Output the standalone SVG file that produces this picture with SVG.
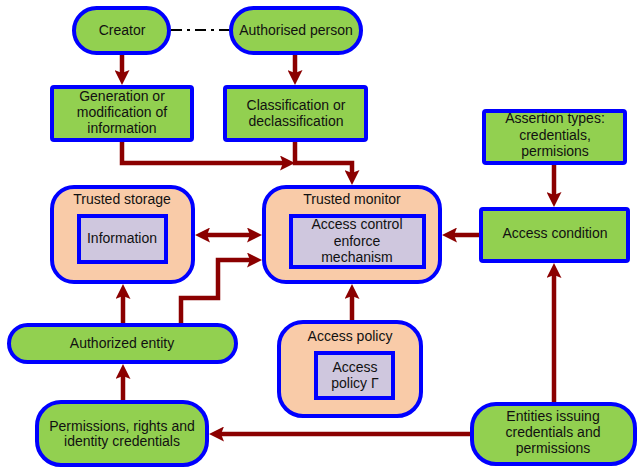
<svg xmlns="http://www.w3.org/2000/svg" width="637" height="470" viewBox="0 0 637 470">
<style>
.g{fill:#92D050;stroke:#0000FF;stroke-width:4}
.p{fill:#F9CBA8;stroke:#0000FF;stroke-width:4}
.l{fill:#CFC7DE;stroke:#0000FF;stroke-width:4}
text{font-family:"Liberation Sans",Arial,sans-serif;font-size:14px;fill:#111;text-anchor:middle}
.c{fill:none;stroke:#8B0000;stroke-width:4.5}
</style>
<defs>
<marker id="ah" markerUnits="userSpaceOnUse" markerWidth="15" markerHeight="15" viewBox="0 0 15 15" refX="5" refY="7.5" orient="auto-start-reverse">
<path d="M0,0 L15,7.5 L0,15 L3,7.5 z" fill="#8B0000"/>
</marker>
</defs>
<g id="connectors">
<path d="M171,30 H229" fill="none" stroke="#000" stroke-width="2" stroke-dasharray="11 5 3 5"/>
<path class="c" d="M122,55 V75" marker-end="url(#ah)"/>
<path class="c" d="M295,55 V75" marker-end="url(#ah)"/>
<path class="c" d="M122,142 V163 H285" marker-end="url(#ah)"/>
<path class="c" d="M295,142 V163 H352 V175" marker-end="url(#ah)"/>
<path class="c" d="M554,165 V197" marker-end="url(#ah)"/>
<path class="c" d="M479,235 H452" marker-end="url(#ah)"/>
<path class="c" d="M205,235 H252" marker-start="url(#ah)" marker-end="url(#ah)"/>
<path class="c" d="M181,323 V298 H218 V260 H252" marker-end="url(#ah)"/>
<path class="c" d="M123,323 V294" marker-end="url(#ah)"/>
<path class="c" d="M123,400 V374" marker-end="url(#ah)"/>
<path class="c" d="M470,434 H219" marker-end="url(#ah)"/>
<path class="c" d="M554,402 V273" marker-end="url(#ah)"/>
<path class="c" d="M352,320 V294" marker-end="url(#ah)"/>
</g>
<g id="creator"><rect class="g" x="74" y="8" width="95" height="45" rx="22.5"/><text x="122" y="35">Creator</text></g>
<g id="authorised"><rect class="g" x="231" y="8" width="130" height="45" rx="22.5"/><text x="296" y="35">Authorised person</text></g>
<g id="generation"><rect class="g" x="52" y="87" width="140" height="53" rx="2"/><text x="122" y="101">Generation or</text><text x="122" y="117">modification of</text><text x="122" y="133">information</text></g>
<g id="classification"><rect class="g" x="225" y="87" width="141" height="53" rx="2"/><text x="296" y="110">Classification or</text><text x="296" y="126">declassification</text></g>
<g id="assertion"><rect class="g" x="484" y="111" width="141" height="52" rx="2"/><text x="555" y="123">Assertion types:</text><text x="555" y="140">credentials,</text><text x="555" y="156">permisions</text></g>
<g id="access-condition"><rect class="g" x="481" y="209" width="147" height="52" rx="2"/><text x="555" y="238">Access condition</text></g>
<g id="trusted-storage"><rect class="p" x="52" y="187" width="141" height="95" rx="22"/><text x="122" y="204">Trusted storage</text><rect class="l" x="79" y="216" width="87" height="46"/><text x="122" y="243">Information</text></g>
<g id="trusted-monitor"><rect class="p" x="264" y="187" width="176" height="95" rx="22"/><text x="352" y="204">Trusted monitor</text><rect class="l" x="291" y="216" width="133" height="51"/><text x="357" y="229">Access control</text><text x="357" y="246">enforce</text><text x="357" y="262">mechanism</text></g>
<g id="authorized-entity"><rect class="g" x="9" y="325" width="227" height="37" rx="18.5"/><text x="122" y="348">Authorized entity</text></g>
<g id="permissions"><rect class="g" x="37" y="402" width="170" height="63" rx="24"/><text x="122" y="431">Permissions, rights and</text><text x="122" y="446">identity credentials</text></g>
<g id="access-policy"><rect class="p" x="279" y="322" width="142" height="94" rx="24"/><text x="350" y="341">Access policy</text><rect class="l" x="316" y="353" width="77" height="45"/><text x="355" y="372">Access</text><text x="355" y="388">policy Γ</text></g>
<g id="entities"><rect class="g" x="472" y="404" width="163" height="60" rx="24"/><text x="553" y="421">Entities issuing</text><text x="553" y="437">credentials and</text><text x="553" y="453">permissions</text></g>
</svg>
